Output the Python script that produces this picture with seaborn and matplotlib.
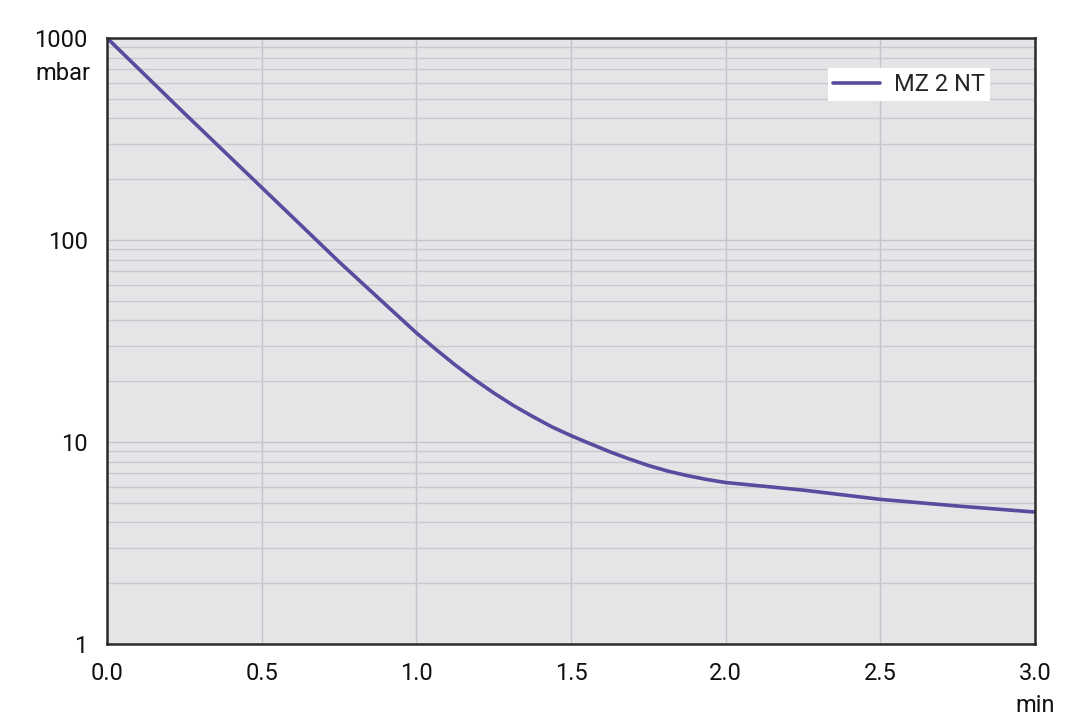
import pandas as pd
import matplotlib.pyplot as plt
import seaborn as sns
from matplotlib.ticker import FixedLocator, LogLocator, NullFormatter

# pump-down curve
time_min = [0.0, 0.25, 0.5, 0.75, 0.875, 1.0, 1.0625, 1.125, 1.1875, 1.25,
            1.3125, 1.375, 1.4375, 1.5, 1.5625, 1.625, 1.6875, 1.75, 1.8125,
            1.875, 1.9375, 2.0, 2.25, 2.5, 2.75, 3.0]
pressure_mbar = [1000, 424, 182, 78, 52, 34.7, 28.8, 24.1, 20.4, 17.5,
                 15.2, 13.4, 11.9, 10.75, 9.8, 8.95, 8.25, 7.65, 7.18,
                 6.82, 6.53, 6.3, 5.78, 5.2, 4.82, 4.5]
series_name = 'MZ 2 NT'
x_ticks = [0.0, 0.5, 1.0, 1.5, 2.0, 2.5, 3.0]
y_ticks = [1, 10, 100, 1000]

sns.set_theme(style='white')
plt.rcParams['font.family'] = ['Roboto', 'DejaVu Sans']

df = pd.DataFrame({'time': time_min, 'pressure': pressure_mbar})

fig = plt.figure(figsize=(10.8, 7.21), dpi=100)
ax = fig.add_axes([0.0991, 0.1068, 0.8592, 0.8405])
ax.set_facecolor('#e4e5e7')

sns.lineplot(data=df, x='time', y='pressure', ax=ax, color='#574c9e',
             linewidth=2.6, label=series_name)

ax.set_yscale('log')
ax.set_xlim(0, 3)
ax.set_ylim(1, 1000)
ax.xaxis.set_major_locator(FixedLocator(x_ticks))
ax.yaxis.set_major_locator(FixedLocator(y_ticks))
ax.yaxis.set_minor_locator(LogLocator(base=10, subs=range(2, 10)))
ax.yaxis.set_minor_formatter(NullFormatter())
ax.set_xticklabels([f'{t:.1f}' for t in x_ticks])
ax.set_yticklabels([str(t) for t in y_ticks])
ax.tick_params(axis='both', which='both', length=0, labelsize=17,
               colors='#111111')
ax.tick_params(axis='x', pad=13)
ax.tick_params(axis='y', pad=14)

ax.grid(True, which='major', color='#c4c5c8', linewidth=1.0)
ax.grid(True, which='minor', axis='y', color='#c9cacd', linewidth=1.0)
ax.set_axisbelow(True)
for side in ax.spines.values():
    side.set_color('#2a2a2a')
    side.set_linewidth(1.8)

ax.set_xlabel('')
ax.set_ylabel('')
fig.text(0.0833, 0.898, 'mbar', ha='right', va='center', fontsize=17,
         color='#111111')
fig.text(0.9583, 0.022, 'min', ha='center', va='center', fontsize=17,
         color='#111111')

leg = ax.legend(loc='upper right', bbox_to_anchor=(0.9515, 0.950),
                frameon=True, fancybox=False, fontsize=17, handlelength=2.0,
                borderpad=0.2, handletextpad=0.6, borderaxespad=0)
leg.get_frame().set_facecolor('white')
leg.get_frame().set_edgecolor('none')
leg.get_frame().set_alpha(1.0)

fig.savefig('out.png', dpi=100)
